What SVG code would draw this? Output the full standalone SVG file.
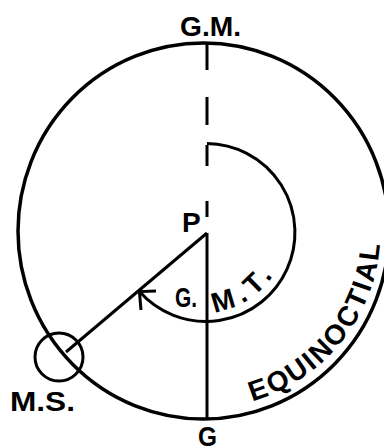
<svg xmlns="http://www.w3.org/2000/svg" width="384" height="448" viewBox="0 0 384 448">
<style>
.ln{fill:none;stroke:#000;stroke-width:3;stroke-linecap:butt}
.bg{fill:none;stroke:#000;stroke-width:3.5}
.t{font-family:"Liberation Sans",Arial,sans-serif;font-weight:bold;font-size:28px;fill:#000}
</style>
<defs>
<path id="eqp" d="M 252.3 401.1 A 177 177 0 0 0 374.5 185.2"/>
<path id="mtp" d="M 214.3 311.6 A 79.5 79.5 0 0 0 284.3 246.3"/>
</defs>
<rect width="384" height="448" fill="#fff"/>
<g id="equinoctial">
<ellipse class="bg" cx="203.5" cy="231" rx="185.5" ry="188"/>
<text class="t" font-size="29" letter-spacing="2.2"><textPath href="#eqp">EQUINOCTIAL</textPath></text>
</g>
<g id="ms">
<circle class="ln" cx="59" cy="357" r="24"/>
<text class="t" x="10" y="411" font-size="31" textLength="65" lengthAdjust="spacingAndGlyphs">M.S.</text>
</g>
<g id="p"><text class="t" x="182" y="232">P</text></g>
<g id="gm"><text class="t" x="180" y="36" font-size="29.5" textLength="61" lengthAdjust="spacingAndGlyphs">G.M.</text></g>
<g id="g"><text class="t" x="198" y="446" font-size="28" textLength="19" lengthAdjust="spacingAndGlyphs">G</text></g>
<g id="gmt">
<text class="t" x="175" y="307" font-size="30" textLength="22" lengthAdjust="spacingAndGlyphs">G.</text>
<text class="t" letter-spacing="6"><textPath href="#mtp">M.T.</textPath></text>
</g>
<g id="connectors">
<path class="ln" d="M207 43V70M207 97V125M207 145V166M207 201V217"/>
<path class="ln" d="M207 233V419"/>
<path class="ln" d="M207 233L66 352"/>
<path class="ln" d="M207 143.5A89 89 0 1 1 139.4 291.6"/>
<path class="ln" d="M156 291L139.4 291.6L141 310"/>
</g>
</svg>
